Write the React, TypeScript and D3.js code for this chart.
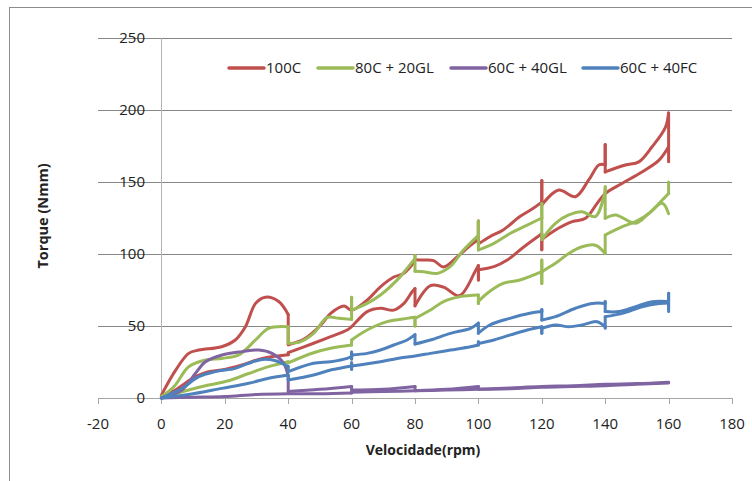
import * as React from "react";
import * as d3 from "d3";

type Pt = [number, number];

// eixos
const xTicks = [-20, 0, 20, 40, 60, 80, 100, 120, 140, 160, 180];
const yTicks = [0, 50, 100, 150, 200, 250];

// legenda / series
const seriesNames = ["100C", "80C + 20GL", "60C + 40GL", "60C + 40FC"];
const seriesColors = ["#C0504D", "#9BBB59", "#8064A2", "#4F81BD"];

// 100C - ramo superior e inferior (velocidade rpm, torque Nmm)
const c100_a: Pt[] = [
  [0, 2], [4.4, 19], [8.6, 31], [11.8, 33.3], [19, 35.6], [23.3, 40.3], [26.5, 49.5],
  [29.7, 65.7], [32.8, 70], [37, 67], [40, 58], [40, 37], [45, 41], [50, 50],
  [53.4, 58.8], [57.6, 63.9], [60, 61], [64.9, 68], [69, 77], [73.3, 84], [76.5, 86.6],
  [79.6, 94], [80, 96], [82.7, 95.8], [85.9, 95.4], [89, 91], [93.3, 98], [97.5, 106],
  [100, 110], [100, 123], [100, 107], [103.6, 112], [107.8, 116.7], [113.1, 126],
  [117.3, 131.7], [120, 136], [120, 151], [120, 134], [125.3, 144.4], [130.6, 139.8],
  [134.8, 151.4], [138, 161.8], [140, 162], [140, 176], [140, 157], [146.4, 161.8],
  [150.6, 164], [154.8, 174.5], [159, 188], [160, 198], [160, 164],
];
const c100_b: Pt[] = [
  [0, 1], [4.4, 5.6], [10.7, 14.8], [14.9, 18.3], [19, 19.4], [25.4, 22.9], [31.8, 27.5],
  [40, 30], [40, 31.5], [48, 38], [53.4, 42.6], [58.6, 47.2], [60, 49.5], [64.9, 60],
  [69.1, 62.3], [73.3, 61], [76.5, 65.7], [79.1, 73.8], [80, 76], [80, 64], [84.9, 78],
  [89, 77], [94, 71], [99, 88], [100, 92], [100, 82], [100, 89], [104.9, 91.2],
  [109.1, 95.8], [114.4, 105], [120, 114], [120, 103], [120, 110], [124.3, 116.7],
  [129.6, 122.5], [133.8, 124.8], [137.4, 135], [140, 142], [145.3, 149], [151.6, 157],
  [156.9, 165], [160, 174.5],
];

// 80C + 20GL
const gl20_a: Pt[] = [
  [0, 1], [4, 8], [8.6, 21.7], [13.9, 26.4], [19.1, 27.5], [24.4, 29.9], [29.7, 40.3],
  [33.8, 48.4], [40, 49.5], [40, 38], [43.8, 39], [48, 44.8], [52.3, 56], [56, 55.3],
  [60, 54.6], [60, 70], [60, 61], [64.9, 65.7], [69.1, 71.5], [74.4, 82], [77.5, 90],
  [80, 97], [80, 99], [80, 88], [82.7, 87.7], [86.9, 86.5], [91.1, 91.2], [95.3, 102.8],
  [100, 113], [100, 123], [100, 102.8], [104.9, 107.4], [110.1, 114.4], [115.4, 120.1],
  [120, 125], [120, 135], [120, 110], [124.3, 121.3], [128.5, 127.1], [132.7, 129.4],
  [136.9, 126], [140, 144], [140, 146.7], [140, 124.8], [143.3, 127.1], [149.6, 121.3],
  [153.8, 128.2], [158, 135.2], [160, 128],
];
const gl20_b: Pt[] = [
  [0, 0.5], [8.6, 5.6], [14.9, 9], [21.2, 12], [27.5, 17], [33.8, 21.8], [40, 25.2],
  [40, 24.4], [48, 31.4], [53.4, 34.5], [60, 36.8], [60, 40.3], [64.9, 47.2],
  [71.2, 53], [77.5, 55.3], [80, 56], [80, 50], [80, 55.3], [84.9, 61.1], [89, 67],
  [94.3, 70.4], [100, 71.5], [100, 65.7], [100, 67], [102.7, 72.6], [107.8, 79.6],
  [113.1, 81.9], [120, 87.7], [120, 95.8], [120, 79.6], [120, 87.7], [124.3, 93.5],
  [128.5, 100.4], [132.7, 105], [136.9, 106.1], [140, 100.4], [140, 113.2], [145.4, 119],
  [149.6, 122.5], [153.8, 128.2], [158, 137.5], [160, 142], [160, 150],
];

// 60C + 40GL
const gl40_a: Pt[] = [
  [0, 0], [6.5, 5.6], [10.7, 17], [13.9, 25.2], [19.1, 29.9], [25.4, 32.2], [30.7, 33.3],
  [34.9, 31], [38.6, 24.1], [40, 14.8], [40, 4.5], [50, 6], [60, 8], [60, 5.5], [70, 6],
  [80, 8], [80, 5], [90, 6], [100, 8], [100, 6], [110, 7], [120, 8], [130, 8.5],
  [140, 9.5], [150, 10], [160, 11],
];
const gl40_b: Pt[] = [
  [0, 0], [10, 0.5], [20, 1], [30, 2.5], [40, 3], [50, 3], [60, 3.5], [60, 4],
  [70, 4.5], [80, 5], [90, 5.5], [100, 6], [110, 6.5], [120, 7.5], [130, 8], [140, 8.5],
  [150, 9.5], [160, 10.5],
];

// 60C + 40FC
const fc40_a: Pt[] = [
  [0, 0], [6.5, 6.7], [11.8, 14.8], [17, 18.3], [23.3, 20.6], [27.5, 24.1], [31.8, 26.8],
  [36, 25.9], [40, 21.8], [40, 18.3], [48, 24.1], [53.4, 25.2], [58.6, 27.5], [60, 29],
  [60, 32], [60, 27], [60, 29.9], [64.9, 31], [69.1, 33.3], [73.3, 36.8], [77.5, 40.3],
  [80, 44], [80, 37.5], [84.9, 40.3], [91.2, 44.9], [97.5, 48.4], [100, 52], [100, 45],
  [103.6, 50.7], [109.9, 55.3], [116.2, 58.8], [120, 60], [120, 61.5], [120, 54.2],
  [124.3, 56.5], [130.6, 62.3], [135.9, 65.7], [140, 65.7], [140, 67], [140, 60],
  [144.3, 60], [149.6, 63.4], [154.8, 66.9], [160, 67], [160, 72.7], [160, 60],
];
const fc40_b: Pt[] = [
  [0, 0], [8.6, 2.4], [19.1, 6.7], [27.5, 10.2], [33.8, 13.7], [40, 16], [40, 12.5],
  [48, 16], [53.4, 19.4], [60, 22.2], [60, 24.5], [60, 20], [60, 22.2], [69.1, 25.2],
  [74.4, 27.5], [80, 29.2], [84.9, 31], [91.2, 33.3], [97.5, 35.6], [100, 36.8], [100, 39],
  [100, 37.9], [104.9, 40.3], [110.1, 43.8], [115.4, 47.2], [120, 49.5], [120, 45],
  [120, 48.4], [124.3, 50.7], [128.5, 49.5], [132.7, 50.7], [137.4, 53], [140, 49.5],
  [140, 48.6], [140, 56.5], [145.4, 58.8], [151.6, 63.4], [157, 65.7], [160, 66], [160, 62],
];

const seriesData: Pt[][][] = [
  [c100_a, c100_b],
  [gl20_a, gl20_b],
  [gl40_a, gl40_b],
  [fc40_a, fc40_b],
];

const W = 752;
const H = 481;
const font = "'Open Sans', 'Liberation Sans', sans-serif";

// separa os trechos suaves (x crescente) dos saltos verticais (mesmo x)
function splitRuns(pts: Pt[]) {
  const runs: Pt[][] = [];
  const jumps: Pt[][] = [];
  let cur: Pt[] = [pts[0]];
  for (let i = 1; i < pts.length; i++) {
    const p = pts[i];
    const prev = pts[i - 1];
    if (p[0] - prev[0] < 0.5) {
      if (cur.length > 1) runs.push(cur);
      jumps.push([prev, p]);
      cur = [p];
    } else {
      cur.push(p);
    }
  }
  if (cur.length > 1) runs.push(cur);
  return { runs, jumps };
}

const App: React.FunctionComponent = () => {
  const x = d3.scaleLinear().domain([-20, 180]).range([98, 732]);
  const y = d3.scaleLinear().domain([0, 250]).range([398, 38]);

  const smooth = d3
    .line<Pt>()
    .x(d => x(d[0]))
    .y(d => y(d[1]))
    .curve(d3.curveCatmullRom.alpha(0.5));
  const straight = d3
    .line<Pt>()
    .x(d => x(d[0]))
    .y(d => y(d[1]));

  // posicoes da legenda (inicio da linha de cada item)
  const legendX = [229, 318, 451, 583];
  const legendY = 68;

  return (
    <div style={{ position: "absolute", left: 0, top: 0 }}>
      <svg width={W} height={H} style={{ display: "block", background: "#fff" }}>
        <rect x={9.5} y={7.5} width={800} height={520} fill="none" stroke="#8c8c8c" />

        {/* grade */}
        {yTicks.filter(t => t > 0).map(t => (
          <line key={t} x1={x(-20)} x2={x(180)} y1={Math.round(y(t)) + 0.5} y2={Math.round(y(t)) + 0.5}
            stroke="#878787" strokeWidth={1} />
        ))}
        {/* eixo y em x=0 */}
        <line x1={Math.round(x(0)) + 0.5} x2={Math.round(x(0)) + 0.5} y1={y(250)} y2={y(0)} stroke="#b4b4b4" />
        {/* eixo x */}
        <line x1={x(-20)} x2={x(180)} y1={Math.round(y(0)) + 0.5} y2={Math.round(y(0)) + 0.5} stroke="#a6a6a6" />
        {xTicks.map(t => (
          <line key={t} x1={Math.round(x(t)) + 0.5} x2={Math.round(x(t)) + 0.5}
            y1={y(0)} y2={y(0) + 6} stroke="#a6a6a6" />
        ))}

        {yTicks.map(t => (
          <text key={t} x={145} y={y(t)} dy="0.35em" textAnchor="end" fontFamily={font}
            fontSize={15} fill="#222">{t}</text>
        ))}
        {xTicks.map(t => (
          <text key={t} x={x(t)} y={429} textAnchor="middle" fontFamily={font}
            fontSize={15} fill="#222">{t}</text>
        ))}

        <text x={423} y={455} textAnchor="middle" fontFamily={font} fontSize={14}
          fontWeight="bold" fill="#222">Velocidade(rpm)</text>
        <text transform="translate(48,216) rotate(-90)" textAnchor="middle" fontFamily={font}
          fontSize={14.5} fontWeight="bold" fill="#222">Torque (Nmm)</text>

        {/* series */}
        {seriesData.map((branches, i) => (
          <g key={seriesNames[i]} fill="none" stroke={seriesColors[i]} strokeWidth={3}
            strokeLinejoin="round" strokeLinecap="round">
            {branches.map((pts, j) => {
              const { runs, jumps } = splitRuns(pts);
              return (
                <g key={j}>
                  {runs.map((r, k) => <path key={"r" + k} d={smooth(r) || ""} />)}
                  {jumps.map((s, k) => <path key={"j" + k} d={straight(s) || ""} />)}
                </g>
              );
            })}
          </g>
        ))}

        {/* legenda */}
        {seriesNames.map((name, i) => (
          <g key={name}>
            <line x1={legendX[i]} x2={legendX[i] + 35} y1={legendY} y2={legendY}
              stroke={seriesColors[i]} strokeWidth={3.5} strokeLinecap="round" />
            <text x={legendX[i] + 37} y={legendY} dy="0.35em" fontFamily={font} fontSize={15}
              fill="#222">{name}</text>
          </g>
        ))}
      </svg>
    </div>
  );
};

export default App;
